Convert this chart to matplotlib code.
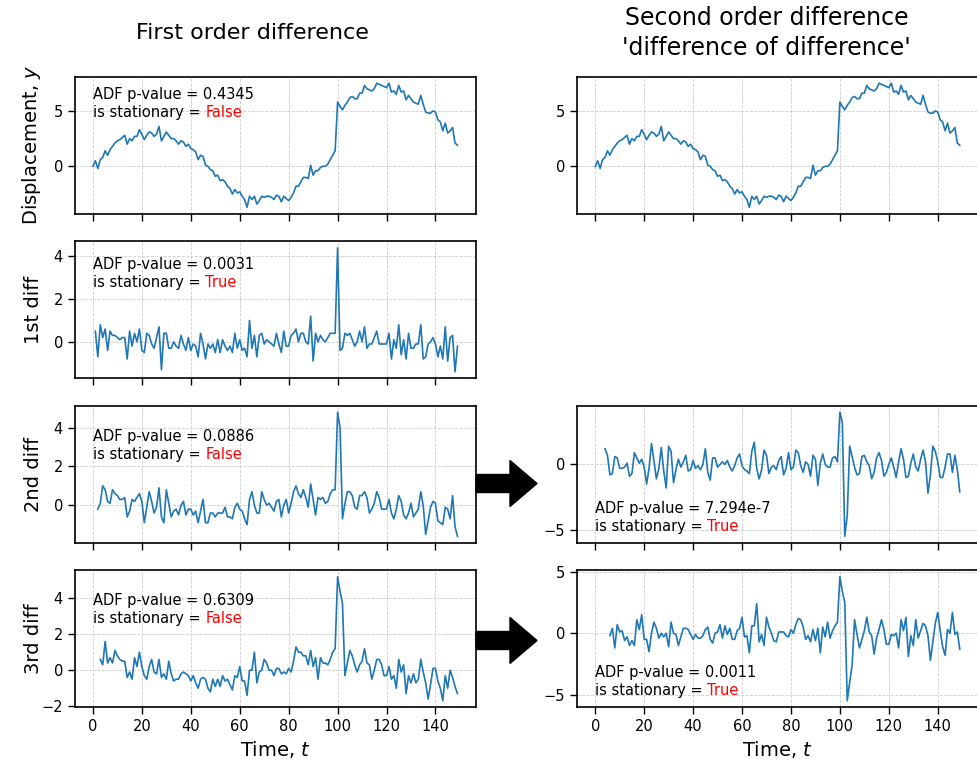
import numpy as np
import pandas as pd
import matplotlib.pyplot as plt
import matplotlib.transforms as mtransforms
from matplotlib.patches import FancyArrow

# displacement, t = 0..149
t = np.arange(150)
y = [0.0, 0.5, -0.2, 0.6, 0.8, 1.4, 1.0, 1.5, 1.8, 2.1,
     2.3, 2.4, 2.6, 2.8, 2.0, 2.5, 2.3, 2.7, 2.7, 3.3,
     2.9, 2.4, 2.8, 3.1, 3.0, 2.7, 2.9, 3.6, 2.3, 2.7,
     3.1, 2.8, 2.5, 2.5, 2.3, 2.0, 2.3, 2.2, 1.8, 2.0,
     1.6, 1.5, 1.3, 0.6, 1.0, 0.9, 0.1, 0.0, -0.3, -0.4,
     -0.9, -0.8, -1.3, -1.2, -1.4, -1.8, -2.0, -2.5, -2.1, -2.4,
     -2.3, -2.7, -3.0, -3.7, -2.7, -3.0, -2.7, -3.4, -3.1, -2.7,
     -2.8, -2.7, -2.7, -2.8, -3.0, -2.6, -2.7, -3.2, -2.7, -2.9,
     -3.1, -2.8, -2.4, -1.8, -1.8, -1.4, -1.0, -1.0, -1.1, 0.1,
     -0.8, -0.4, -0.4, -0.1, 0.0, 0.0, 0.2, 0.6, 1.0, 1.4,
     5.8, 5.4, 5.1, 5.5, 5.8, 6.2, 6.3, 6.1, 6.1, 6.6,
     6.6, 7.3, 7.0, 6.9, 6.8, 7.0, 7.5, 7.4, 7.3, 7.2,
     7.1, 7.5, 6.7, 6.8, 6.5, 7.3, 6.7, 6.8, 6.0, 6.4,
     6.1, 5.8, 5.7, 5.6, 6.4, 5.6, 4.9, 4.8, 4.8, 5.0,
     4.9, 4.2, 4.0, 3.2, 3.9, 3.0, 3.2, 3.5, 2.1, 1.9]

left_labels = ["Displacement, $y$", "1st diff", "2nd diff", "3rd diff"]
left_pvalues = ["0.4345", "0.0031", "0.0886", "0.6309"]
left_stationary = ["False", "True", "False", "False"]
right_pvalues = ["7.294e-7", "0.0011"]
right_stationary = ["True", "True"]

s = pd.Series(y, index=t)
left_series = [s, s.diff().dropna(), s.diff(2).dropna(), s.diff(3).dropna()]
right_series = [s.diff(2).diff(2).dropna(), s.diff(3).diff(3).dropna()]

W, H = 977, 762
fig, axes = plt.subplots(4, 2, sharex=True, figsize=(W / 100, H / 100), dpi=100)
fig.subplots_adjust(left=74.7 / W, right=978 / W, top=1 - 77 / H, bottom=1 - 707 / H,
                    wspace=0.2526, hspace=0.205)

line_kw = dict(color="#1f77b4", linewidth=1.2)
TXT = 10.5
LBL = 14


def style(ax):
    ax.grid(True, linestyle="--", linewidth=0.6, color="#cccccc")
    for sp in ax.spines.values():
        sp.set_linewidth(1.2)
    ax.tick_params(labelsize=TXT, width=1.0, length=5)


def adf_text(ax, pval, stat, y2):
    # two lines: black text plus the red True/False word
    trans = mtransforms.blended_transform_factory(ax.transData, ax.transAxes)
    ax.text(0, y2 + 18 / 136.5, f"ADF p-value = {pval}", transform=trans,
            fontsize=TXT, va="baseline")
    t2 = ax.text(0, y2, "is stationary = ", transform=trans, fontsize=TXT, va="baseline")
    ax.annotate(stat, xy=(1, 0), xycoords=t2, va="bottom", ha="left",
                fontsize=TXT, color="red")


left_pos = [0.704, 0.664, 0.615, 0.618]
for i, ax in enumerate(axes[:, 0]):
    ser = left_series[i]
    ax.plot(ser.index, ser.values, **line_kw)
    ax.set_ylabel(left_labels[i], fontsize=LBL)
    ax.yaxis.set_label_coords(-0.078, 0.5)
    style(ax)
    adf_text(ax, left_pvalues[i], left_stationary[i], left_pos[i])

# right column
axes[0, 1].plot(s.index, s.values, **line_kw)
style(axes[0, 1])
axes[1, 1].axis("off")
right_pos = [0.085, 0.088]
for j, ax in enumerate(axes[2:, 1]):
    ser = right_series[j]
    ax.plot(ser.index, ser.values, **line_kw)
    style(ax)
    adf_text(ax, right_pvalues[j], right_stationary[j], right_pos[j])

for ax in axes[3, :]:
    ax.set_xlabel("Time, $t$", fontsize=LBL)
    ax.set_xticks(np.arange(0, 141, 20))

fig.text(252 / W, 1 - 33 / H, "First order difference", fontsize=16,
         ha="center", va="center")
fig.text(766.5 / W, 1 - 33 / H, "Second order difference\n'difference of difference'",
         fontsize=17, ha="center", va="center", linespacing=1.35)

# arrows between the columns
for yc in [483.5, 640.5]:
    fig.patches.append(FancyArrow(476 / W, 1 - yc / H, 61 / W, 0, width=18 / H,
                                  head_width=46 / H, head_length=27 / W,
                                  length_includes_head=True, color="black",
                                  transform=fig.transFigure, figure=fig))

fig.savefig("out.png", dpi=100)
